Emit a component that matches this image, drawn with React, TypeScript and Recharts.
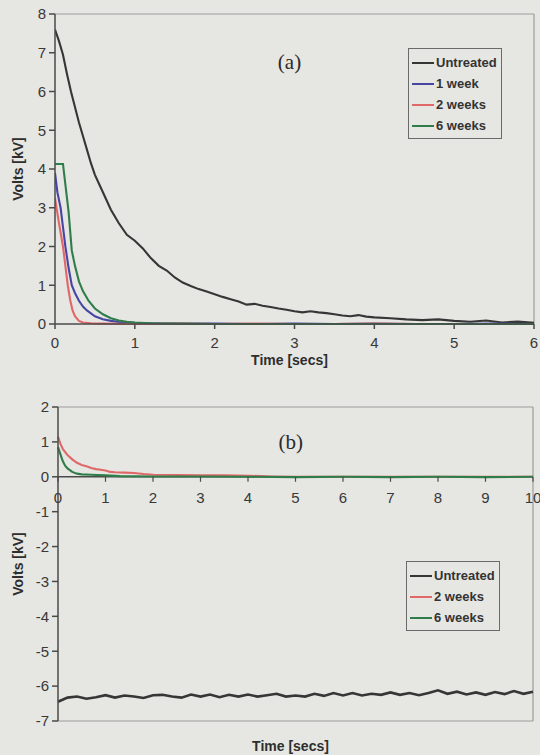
import React from 'react';
import { LineChart, Line, XAxis, YAxis, ReferenceLine, ReferenceDot, Legend } from 'recharts';

// ---------- Chart (a) data ----------
const timeA_untreated = [0, 0.05, 0.1, 0.15, 0.2, 0.25, 0.3, 0.35, 0.4, 0.45, 0.5, 0.6, 0.7, 0.8, 0.9, 1.0, 1.1, 1.2, 1.3, 1.4, 1.5, 1.6, 1.7, 1.8, 1.9, 2.0, 2.1, 2.2, 2.3, 2.4, 2.5, 2.6, 2.7, 2.8, 2.9, 3.0, 3.1, 3.2, 3.3, 3.4, 3.5, 3.6, 3.7, 3.8, 3.9, 4.0, 4.2, 4.4, 4.6, 4.8, 5.0, 5.2, 5.4, 5.6, 5.8, 6.0];
const voltsA_untreated = [7.6, 7.3, 6.95, 6.45, 6.0, 5.6, 5.2, 4.85, 4.5, 4.15, 3.85, 3.4, 2.95, 2.6, 2.3, 2.15, 1.95, 1.7, 1.5, 1.38, 1.2, 1.07, 0.98, 0.9, 0.84, 0.77, 0.7, 0.64, 0.58, 0.5, 0.52, 0.47, 0.44, 0.4, 0.37, 0.33, 0.3, 0.33, 0.3, 0.28, 0.25, 0.22, 0.2, 0.23, 0.19, 0.17, 0.15, 0.12, 0.1, 0.12, 0.08, 0.06, 0.09, 0.04, 0.06, 0.03];

const timeA_1week = [0, 0.03, 0.07, 0.1, 0.13, 0.17, 0.21, 0.25, 0.3, 0.35, 0.4, 0.5, 0.6, 0.7, 0.8, 1.0, 1.2, 1.5, 2, 2.5, 3, 3.5, 4, 4.5, 5, 5.5, 6];
const voltsA_1week = [3.9, 3.4, 3.0, 2.5, 2.0, 1.45, 1.0, 0.8, 0.6, 0.45, 0.35, 0.2, 0.12, 0.08, 0.05, 0.03, 0.02, 0.01, 0.01, 0, 0.01, 0, 0.01, 0, 0, 0.01, 0];

const timeA_2weeks = [0, 0.05, 0.1, 0.13, 0.16, 0.19, 0.22, 0.25, 0.3, 0.35, 0.45, 0.6, 1, 1.5, 2, 2.5, 3, 3.5, 4, 4.5, 5, 5.5, 6];
const voltsA_2weeks = [3.25, 2.6, 2.0, 1.5, 1.0, 0.62, 0.35, 0.2, 0.08, 0.04, 0.02, 0.01, 0, 0.01, 0, 0.01, 0, 0, 0.01, 0, 0, 0, 0];

const timeA_6weeks = [0, 0.1, 0.13, 0.17, 0.21, 0.25, 0.3, 0.35, 0.42, 0.5, 0.6, 0.7, 0.8, 0.9, 1.0, 1.2, 1.5, 2, 3, 4, 5, 6];
const voltsA_6weeks = [4.13, 4.13, 3.6, 2.9, 1.9, 1.5, 1.1, 0.85, 0.6, 0.4, 0.25, 0.15, 0.09, 0.06, 0.04, 0.02, 0.01, 0, 0, 0, 0, 0];

const xTicksA = [0, 1, 2, 3, 4, 5, 6];
const yTicksA = [0, 1, 2, 3, 4, 5, 6, 7, 8];

// ---------- Chart (b) data ----------
const timeB_untreated = [0, 0.2, 0.4, 0.6, 0.8, 1.0, 1.2, 1.4, 1.6, 1.8, 2.0, 2.2, 2.4, 2.6, 2.8, 3.0, 3.2, 3.4, 3.6, 3.8, 4.0, 4.2, 4.4, 4.6, 4.8, 5.0, 5.2, 5.4, 5.6, 5.8, 6.0, 6.2, 6.4, 6.6, 6.8, 7.0, 7.2, 7.4, 7.6, 7.8, 8.0, 8.2, 8.4, 8.6, 8.8, 9.0, 9.2, 9.4, 9.6, 9.8, 10.0];
const voltsB_untreated = [-6.45, -6.33, -6.3, -6.36, -6.32, -6.26, -6.33, -6.27, -6.3, -6.34, -6.26, -6.25, -6.3, -6.33, -6.24, -6.3, -6.24, -6.32, -6.25, -6.3, -6.24, -6.3, -6.26, -6.22, -6.3, -6.27, -6.3, -6.22, -6.28, -6.2, -6.27, -6.2, -6.27, -6.22, -6.25, -6.18, -6.25, -6.2, -6.26, -6.2, -6.12, -6.22, -6.16, -6.24, -6.18, -6.25, -6.17, -6.23, -6.14, -6.22, -6.16];

const timeB_2weeks = [0, 0.05, 0.1, 0.2, 0.3, 0.4, 0.5, 0.6, 0.7, 0.8, 0.9, 1.0, 1.1, 1.2, 1.4, 1.6, 1.8, 2.0, 2.5, 3, 3.5, 4, 4.5, 5, 6, 7, 8, 9, 10];
const voltsB_2weeks = [1.15, 0.95, 0.8, 0.62, 0.5, 0.4, 0.34, 0.3, 0.25, 0.22, 0.2, 0.18, 0.14, 0.13, 0.12, 0.11, 0.08, 0.06, 0.05, 0.04, 0.04, 0.03, 0.01, 0, 0, 0, 0, 0, 0];

const timeB_6weeks = [0, 0.05, 0.1, 0.15, 0.2, 0.3, 0.4, 0.5, 0.7, 1.0, 1.3, 2, 3, 4, 5, 6, 7, 8, 9, 10];
const voltsB_6weeks = [0.85, 0.65, 0.45, 0.32, 0.24, 0.14, 0.09, 0.07, 0.06, 0.04, 0.02, 0.01, 0.01, 0, -0.01, 0, -0.01, 0, -0.01, 0];

const xTicksB = [0, 1, 2, 3, 4, 5, 6, 7, 8, 9, 10];
const yTicksB = [-7, -6, -5, -4, -3, -2, -1, 0, 1, 2];

// ---------- Styles ----------
const BG = '#e6e6e2';
const FONT = '"Liberation Sans", Arial, sans-serif';
const AXIS = '#4a4a4a';
const FRAME = '#9c9c9c';
const TICK_TEXT = '#383838';
const C_UNTREATED = '#363636';
const C_1WEEK = '#4747a3';
const C_2WEEKS = '#e06868';
const C_6WEEKS = '#2f7d4b';

const zip = (ts: number[], vs: number[]) => ts.map((t, i) => ({ t, v: vs[i] }));

const seriesA = [
  { name: 'Untreated', color: C_UNTREATED, data: zip(timeA_untreated, voltsA_untreated) },
  { name: '1 week', color: C_1WEEK, data: zip(timeA_1week, voltsA_1week) },
  { name: '2 weeks', color: C_2WEEKS, data: zip(timeA_2weeks, voltsA_2weeks) },
  { name: '6 weeks', color: C_6WEEKS, data: zip(timeA_6weeks, voltsA_6weeks) },
];

const seriesB = [
  { name: 'Untreated', color: C_UNTREATED, data: zip(timeB_untreated, voltsB_untreated) },
  { name: '2 weeks', color: C_2WEEKS, data: zip(timeB_2weeks, voltsB_2weeks) },
  { name: '6 weeks', color: C_6WEEKS, data: zip(timeB_6weeks, voltsB_6weeks) },
];

const LegendBox = ({ items }: { items: { name: string; color: string }[] }) => (
  <div
    style={{
      border: '1px solid #6a6a6a',
      background: BG,
      padding: '3px 4px 2px 3px',
      fontFamily: FONT,
      fontWeight: 'bold',
      fontSize: 13,
      color: '#333',
      lineHeight: '21px',
    }}
  >
    {items.map((it) => (
      <div key={it.name} style={{ display: 'flex', alignItems: 'center', whiteSpace: 'nowrap' }}>
        <span style={{ display: 'inline-block', width: 22, height: 2, background: it.color, marginRight: 2 }} />
        <span>{it.name}</span>
      </div>
    ))}
  </div>
);

const tickStyle = { fontSize: 15, fill: TICK_TEXT, fontFamily: FONT };
const titleStyle = { fontSize: 14, fontWeight: 'bold', fill: '#2e2e2e', fontFamily: FONT };

export default function App() {
  return (
    <div style={{ position: 'absolute', left: 0, top: 0, width: 540, height: 755, background: BG, fontFamily: FONT }}>
      {/* Chart (a) */}
      <LineChart width={540} height={370} margin={{ top: 14, right: 6, bottom: 0, left: 0 }} style={{ fontFamily: FONT }}>
        <XAxis
          type="number"
          dataKey="t"
          domain={[0, 6]}
          ticks={xTicksA}
          interval={0}
          height={46}
          tick={tickStyle}
          tickSize={5}
          tickMargin={8}
          stroke={AXIS}
          strokeWidth={1.5}
          allowDataOverflow
          label={{ value: 'Time [secs]', position: 'insideBottom', offset: 5, dx: -5, style: titleStyle }}
        />
        <YAxis
          type="number"
          domain={[0, 8]}
          ticks={yTicksA}
          interval={0}
          width={55}
          tick={tickStyle}
          tickSize={6}
          tickMargin={3}
          stroke={AXIS}
          strokeWidth={1.5}
          label={{ value: 'Volts [kV]', angle: -90, position: 'center', dx: -9, style: titleStyle }}
        />
        <ReferenceLine y={8} stroke={FRAME} strokeWidth={1.2} />
        <ReferenceLine x={6} stroke={FRAME} strokeWidth={1.2} />
        {seriesA.map((s) => (
          <Line
            key={s.name}
            data={s.data}
            dataKey="v"
            name={s.name}
            type="linear"
            stroke={s.color}
            strokeWidth={2.1}
            dot={false}
            isAnimationActive={false}
          />
        ))}
        <ReferenceDot
          x={3}
          y={6.75}
          r={0}
          shape={(p: any) => (
            <text x={p.cx - 5} y={p.cy} textAnchor="middle" dominantBaseline="central" fontFamily='"Liberation Serif", "Times New Roman", serif' fontSize={21} fill="#2a2a2a">
              (a)
            </text>
          )}
        />
        <Legend
          layout="vertical"
          align="center"
          verticalAlign="middle"
          wrapperStyle={{ left: 408, top: 48, width: 'auto', height: 'auto' }}
          content={() => <LegendBox items={seriesA} />}
        />
      </LineChart>

      {/* Chart (b) */}
      <LineChart width={540} height={385} margin={{ top: 37, right: 7, bottom: 0, left: 0 }} style={{ fontFamily: FONT }}>
        <XAxis
          type="number"
          dataKey="t"
          domain={[0, 10]}
          ticks={xTicksB}
          height={34}
          tick={false}
          tickLine={false}
          stroke={FRAME}
          strokeWidth={1.2}
          label={{ value: 'Time [secs]', position: 'insideBottom', offset: 4, dx: -5, style: titleStyle }}
        />
        <YAxis
          type="number"
          domain={[-7, 2]}
          ticks={yTicksB}
          interval={0}
          width={58}
          tick={tickStyle}
          tickSize={6}
          tickMargin={3}
          stroke={AXIS}
          strokeWidth={1.5}
          label={{ value: 'Volts [kV]', angle: -90, position: 'center', dx: -11, style: titleStyle }}
        />
        <ReferenceLine y={2} stroke={FRAME} strokeWidth={1.2} />
        <ReferenceLine x={10} stroke={FRAME} strokeWidth={1.2} />
        <ReferenceLine y={0} stroke={AXIS} strokeWidth={1.5} />
        {xTicksB.map((t) => (
          <ReferenceDot
            key={t}
            x={t}
            y={0}
            r={0}
            shape={(p: any) => (
              <g>
                <line x1={p.cx} y1={p.cy} x2={p.cx} y2={p.cy + 5} stroke={AXIS} strokeWidth={1.2} />
                <text x={p.cx} y={p.cy + 26} textAnchor="middle" fontSize={15} fill={TICK_TEXT} fontFamily={FONT}>
                  {t}
                </text>
              </g>
            )}
          />
        ))}
        {seriesB.map((s) => (
          <Line
            key={s.name}
            data={s.data}
            dataKey="v"
            name={s.name}
            type="linear"
            stroke={s.color}
            strokeWidth={s.name === 'Untreated' ? 2.6 : 2.1}
            dot={false}
            isAnimationActive={false}
          />
        ))}
        <ReferenceDot
          x={4.9}
          y={1.0}
          r={0}
          shape={(p: any) => (
            <text x={p.cx} y={p.cy} textAnchor="middle" dominantBaseline="central" fontFamily='"Liberation Serif", "Times New Roman", serif' fontSize={21} fill="#2a2a2a">
              (b)
            </text>
          )}
        />
        <Legend
          layout="vertical"
          align="center"
          verticalAlign="middle"
          wrapperStyle={{ left: 406, top: 191, width: 'auto', height: 'auto' }}
          content={() => <LegendBox items={seriesB} />}
        />
      </LineChart>
    </div>
  );
}
